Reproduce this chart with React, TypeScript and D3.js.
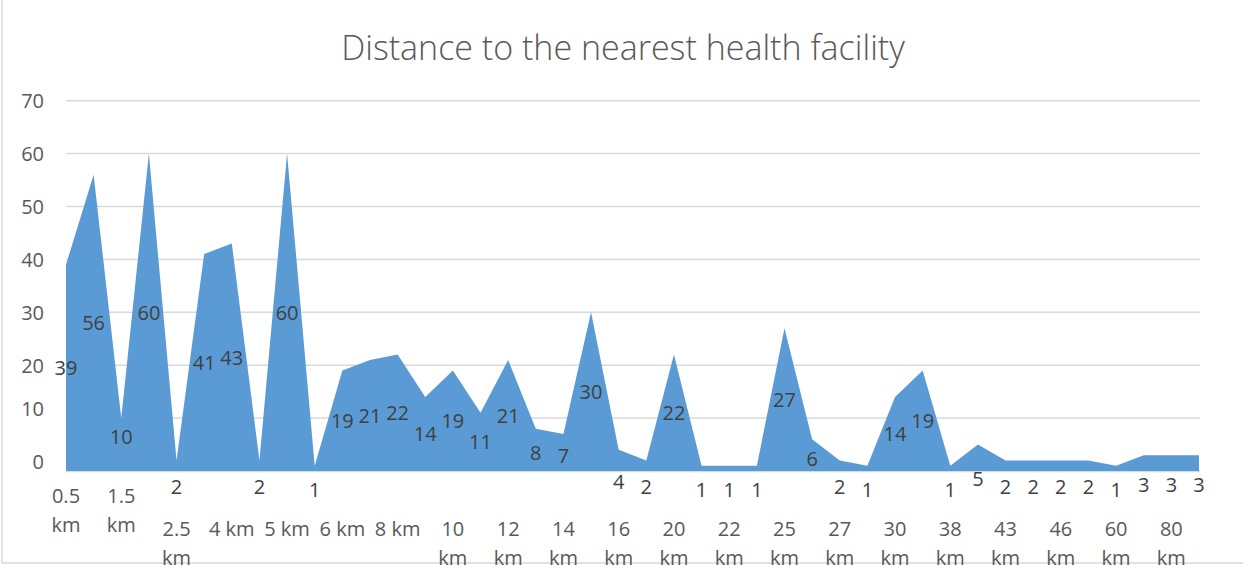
import * as d3 from "d3";

const categories = [
  "0.5 km", "1 km", "1.5 km", "2 km", "2.5 km", "3 km", "4 km", "4.5 km", "5 km", "5.5 km",
  "6 km", "7 km", "8 km", "9 km", "10 km", "11 km", "12 km", "13 km", "14 km", "15 km",
  "16 km", "18 km", "20 km", "21 km", "22 km", "24 km", "25 km", "26 km", "27 km", "28 km",
  "30 km", "35 km", "38 km", "40 km", "43 km", "45 km", "46 km", "50 km", "60 km", "70 km",
  "80 km", "100 km",
];

const counts = [
  39, 56, 10, 60, 2, 41, 43, 2, 60, 1,
  19, 21, 22, 14, 19, 11, 21, 8, 7, 30,
  4, 2, 22, 1, 1, 1, 27, 6, 2, 1,
  14, 19, 1, 5, 2, 2, 2, 2, 1, 3,
  3, 3,
];

const yTicks = [0, 10, 20, 30, 40, 50, 60, 70];

const title = "Distance to the nearest health facility";

const W = 1243;
const H = 565;
const FONT = "'Open Sans', sans-serif";

export default function App() {
  const x = d3.scalePoint<string>().domain(categories).range([66, 1199]);
  const y = d3.scaleLinear().domain([0, 70]).range([471, 100.7]);

  const rows = categories.map((c, i) => ({ c, v: counts[i] }));

  const area = d3
    .area<{ c: string; v: number }>()
    .x((d) => x(d.c) ?? 0)
    .y0(y(0))
    .y1((d) => y(d.v));

  // Excel pushes small-value labels below the axis
  const labelY = (v: number) => {
    if (v <= 5) return y(v / 2) + 21;
    if (v < 10) return y(v / 2) + 3;
    if (v === 10) return y(v / 2) - 8;
    return y(v / 2);
  };

  return (
    <svg
      width={W}
      height={H}
      style={{ position: "absolute", left: 0, top: 0, background: "#fff" }}
      fontFamily={FONT}
    >
      {/* chart frame (left and bottom edges visible) */}
      <line x1={2} x2={2} y1={0} y2={563} stroke="#d9d9d9" strokeWidth={1.5} />
      <line x1={2} x2={W} y1={563} y2={563} stroke="#d9d9d9" strokeWidth={1.5} />

      <text x={623} y={60} textAnchor="middle" fontSize={34} fontWeight={300} fill="#595959">
        {title}
      </text>

      {/* gridlines */}
      {yTicks.map((t) => (
        <line
          key={t}
          x1={66}
          x2={1200}
          y1={y(t)}
          y2={y(t)}
          stroke="#d9d9d9"
          strokeWidth={t === 0 ? 2.5 : 1.5}
        />
      ))}

      {/* y tick labels */}
      {yTicks.map((t) => (
        <text
          key={t}
          x={44}
          y={t >= 20 ? y(t) : y(t) - 10}
          textAnchor="end"
          dominantBaseline="central"
          fontSize={20}
          fill="#595959"
        >
          {t}
        </text>
      ))}

      <path d={area(rows) ?? ""} fill="#5b9bd5" />

      {/* data labels */}
      {rows.map((d, i) => (
        <text
          key={i}
          x={x(d.c)}
          y={labelY(d.v)}
          textAnchor="middle"
          dominantBaseline="central"
          fontSize={20}
          fill="#404040"
        >
          {d.v}
        </text>
      ))}

      {/* category labels, every other one */}
      {categories.map((c, i) => {
        if (i % 2 !== 0) return null;
        const lines = c.length > 4 ? c.split(" ") : [c];
        const top = i < 4 ? 495 : 528;
        return (
          <text
            key={c}
            x={x(c)}
            textAnchor="middle"
            fontSize={20}
            fill="#595959"
          >
            {lines.map((l, k) => (
              <tspan key={k} x={x(c)} y={top + k * 29} dominantBaseline="central">
                {l}
              </tspan>
            ))}
          </text>
        );
      })}
    </svg>
  );
}
